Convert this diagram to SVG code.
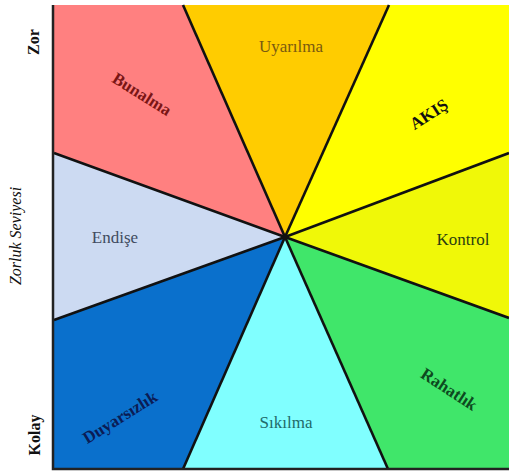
<svg xmlns="http://www.w3.org/2000/svg" width="509" height="473" viewBox="0 0 509 473">
<style>
.seg{stroke:none}
.ln{stroke:#111;stroke-width:2.6;fill:none}
.lbl{font-family:"Liberation Serif","Times New Roman","DejaVu Serif",serif;font-size:17px;text-anchor:middle}
.ax{font-family:"Liberation Serif","Times New Roman","DejaVu Serif",serif;font-size:16px;text-anchor:middle;fill:#111}
</style>
<rect width="509" height="473" fill="#ffffff"/>
<g id="sectors">
<g id="bunalma"><polygon class="seg" points="285,237 54,153 54,5 183,5" fill="#FF8080"/><text class="lbl" transform="translate(139,99) rotate(32)" fill="#7a1515" font-weight="bold" font-size="16">Bunalma</text></g>
<g id="uyarilma"><polygon class="seg" points="285,237 183,5 389,5" fill="#FFCC00"/><text class="lbl" x="291" y="52" fill="#7a5a10">Uyarılma</text></g>
<g id="akis"><polygon class="seg" points="285,237 389,5 509,5 509,153" fill="#FFFF00"/><text class="lbl" transform="translate(432,119) rotate(-33)" fill="#111" font-weight="bold" font-size="25">AKIŞ</text></g>
<g id="kontrol"><polygon class="seg" points="285,237 509,153 509,318" fill="#F0F808"/><text class="lbl" x="463" y="245" fill="#2a4010">Kontrol</text></g>
<g id="rahatlik"><polygon class="seg" points="285,237 509,318 509,469 388,469" fill="#40E66A"/><text class="lbl" transform="translate(446,394) rotate(33)" fill="#0d4a20" font-weight="bold" font-size="16">Rahatlık</text></g>
<g id="sikilma"><polygon class="seg" points="285,237 388,469 183,469" fill="#80FFFF"/><text class="lbl" x="286" y="428" fill="#1f6a6a">Sıkılma</text></g>
<g id="duyarsizlik"><polygon class="seg" points="285,237 183,469 54,469 54,320" fill="#0A70CC"/><text class="lbl" transform="translate(123,422) rotate(-32)" fill="#0b1c55" font-weight="bold" font-size="16">Duyarsızlık</text></g>
<g id="endise"><polygon class="seg" points="285,237 54,320 54,153" fill="#CCDAF2"/><text class="lbl" x="115" y="243" fill="#404a60">Endişe</text></g>
</g>
<g id="connectors">
<line class="ln" x1="285" y1="237" x2="54" y2="153"/>
<line class="ln" x1="285" y1="237" x2="183" y2="5"/>
<line class="ln" x1="285" y1="237" x2="389" y2="5"/>
<line class="ln" x1="285" y1="237" x2="509" y2="153"/>
<line class="ln" x1="285" y1="237" x2="509" y2="318"/>
<line class="ln" x1="285" y1="237" x2="388" y2="469"/>
<line class="ln" x1="285" y1="237" x2="183" y2="469"/>
<line class="ln" x1="285" y1="237" x2="54" y2="320"/>
<circle cx="285" cy="237" r="3" fill="#111"/>
<polyline points="53,5 53,469 509,469" fill="none" stroke="#222" stroke-width="2.5"/>
</g>
<g id="axis">
<text class="ax" transform="translate(39,42) rotate(-90)" font-weight="bold">Zor</text>
<text class="ax" transform="translate(21,236) rotate(-90)" font-style="italic">Zorluk Seviyesi</text>
<text class="ax" transform="translate(40,435) rotate(-90)" font-weight="bold">Kolay</text>
</g>
</svg>
